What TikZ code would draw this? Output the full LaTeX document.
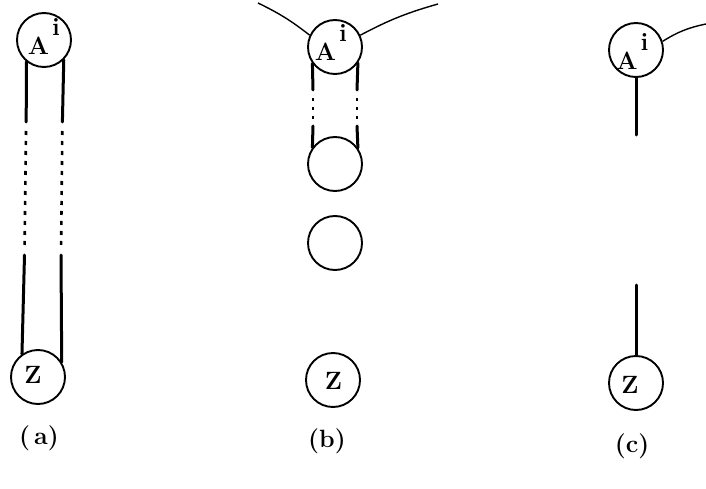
\documentclass[tikz,border=0pt]{standalone}
\usepackage{fontspec}
\usetikzlibrary{calc}
\tikzset{
  ball/.style={circle, draw, line width=1.9pt, minimum size=54pt, inner sep=0pt},
  txt/.style={inner sep=0pt, font=\fontsize{25}{28}\selectfont\bfseries},
  caption/.style={inner sep=0pt, font=\fontsize{25}{28}\selectfont\bfseries},
  bar/.style={line width=3pt, line cap=round},
  dotbar/.style={line width=2.6pt, dash pattern=on 4pt off 6pt},
  thread/.style={line width=1.4pt},
}
\newcommand{\Atext}{A\hspace{3pt}\raisebox{19pt}{i}}
\begin{document}
\begin{tikzpicture}[x=1pt,y=-1pt]
\useasboundingbox (0,0) rectangle (706,489);
% ---------- (a)
\node[ball] (Aa) at (44,40) {};
\node[txt] (Aat) at (44,37) {\Atext};
\node[ball] (Za) at (38,377) {};
\node[txt] (Zat) at (33,375) {Z};
\coordinate (aL1) at (26.2,122);
\coordinate (aL2) at (26,131);
\coordinate (aL3) at (24.6,248);
\coordinate (aL4) at (24.5,255);
\coordinate (aR1) at (62.4,122);
\coordinate (aR2) at (62.3,131);
\coordinate (aR3) at (61.1,248);
\coordinate (aR4) at (61,255);
\draw[bar] (Aa.-129) -- (aL1);
\draw[dotbar] (aL2) -- (aL3);
\draw[bar] (aL4) -- (Za.125);
\draw[bar] (Aa.-45) -- (aR1);
\draw[dotbar] (aR2) -- (aR3);
\draw[bar] (aR4) -- (Za.32);
\node[caption] (capa) at (39,438) {(\,a)};
% ---------- (b)
\node[ball] (Ab) at (335,47) {};
\node[txt] (Abt) at (331,43) {\Atext};
\node[ball] (Bb) at (335,164) {};
\node[ball] (Cb) at (335,243) {};
\node[ball] (Zb) at (333,380) {};
\node[txt] (Zbt) at (333.5,381) {Z};
\coordinate (bL1) at (313,90);
\coordinate (bL2) at (313,98);
\coordinate (bL3) at (313,120);
\coordinate (bL4) at (313,126);
\coordinate (bR1) at (357,90);
\coordinate (bR2) at (357,98);
\coordinate (bR3) at (357,120);
\coordinate (bR4) at (357,126);
\draw[bar] (Ab.-144.6) -- (bL1);
\draw[dotbar, dash pattern=on 3pt off 6pt] (bL2) -- (bL3);
\draw[bar] (bL4) -- (Bb.144.6);
\draw[bar] (Ab.-35.4) -- (bR1);
\draw[dotbar, dash pattern=on 3pt off 6pt] (bR2) -- (bR3);
\draw[bar] (bR4) -- (Bb.35.4);
\coordinate (bT1) at (258,3);
\coordinate (bT2) at (438,4);
\draw[thread] (bT1) to[bend left=6] (Ab.155);
\draw[thread] (Ab.25) to[bend left=6] (bT2);
\node[caption] (capb) at (327,441) {(b)};
% ---------- (c)
\node[ball] (Ac) at (636,50) {};
\node[txt] (Act) at (632.5,52) {\Atext};
\node[ball] (Zc) at (636,383) {};
\node[txt] (Zct) at (630,385) {Z};
\coordinate (cT) at (706,24);
\draw[thread] (Ac.18) to[bend left=10] (cT);
\coordinate (cU) at (636,135);
\coordinate (cD) at (636,285);
\draw[bar] (Ac.south) -- (cU);
\draw[bar] (cD) -- (Zc.north);
\node[caption] (capc) at (632,446) {(c)};
\end{tikzpicture}
\end{document}
